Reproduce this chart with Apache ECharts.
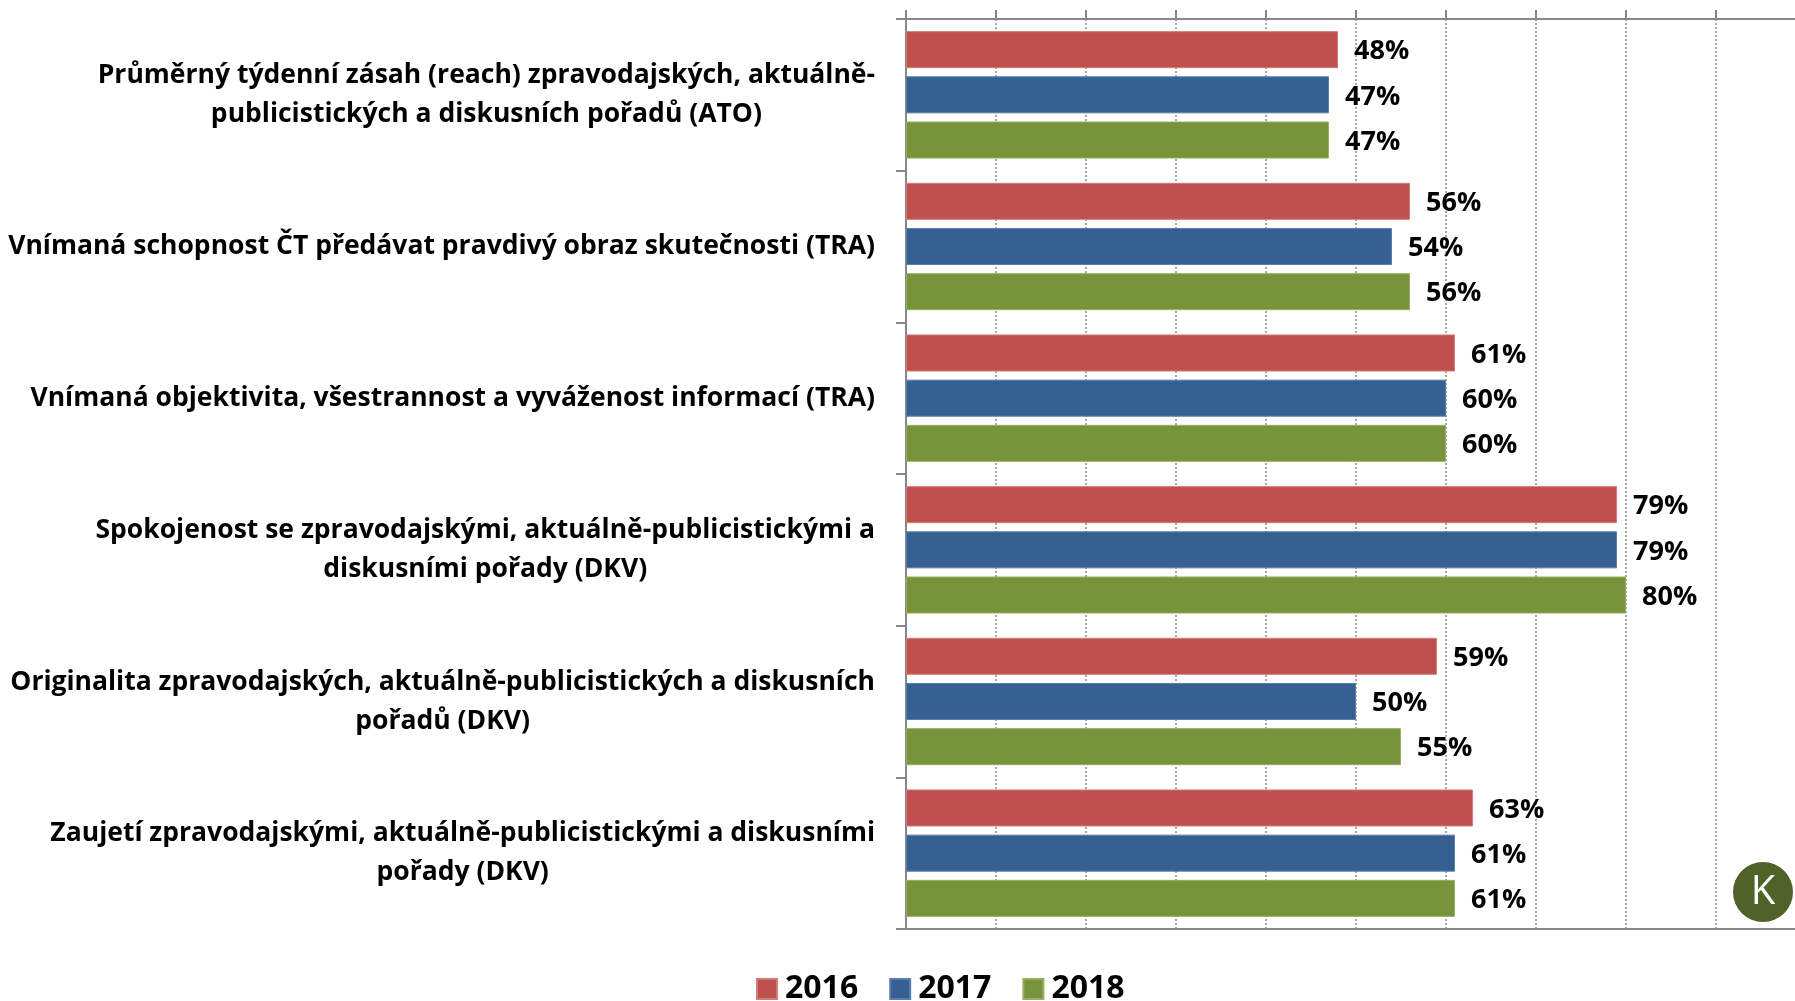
<!DOCTYPE html>
<html>
<head>
<meta charset="utf-8">
<script src="https://cdn.jsdelivr.net/npm/echarts@6/dist/echarts.min.js"></script>
<style>
html,body{margin:0;padding:0;background:#fff;}
#chart{width:1795px;height:1001px;}
</style>
</head>
<body>
<div id="chart"></div>
<script>
const categories = [
  'Průměrný týdenní zásah (reach) zpravodajských, aktuálně-\npublicistických a diskusních pořadů (ATO)',
  'Vnímaná schopnost ČT předávat pravdivý obraz skutečnosti (TRA)',
  'Vnímaná objektivita, všestrannost a vyváženost informací (TRA)',
  'Spokojenost se zpravodajskými, aktuálně-publicistickými a\ndiskusními pořady (DKV)',
  'Originalita zpravodajských, aktuálně-publicistických a diskusních\npořadů (DKV)',
  'Zaujetí zpravodajskými, aktuálně-publicistickými a diskusními\npořady (DKV)'
];
const seriesNames = ['2016', '2017', '2018'];
const values2016 = [48, 56, 61, 79, 59, 63];
const values2017 = [47, 54, 60, 79, 50, 61];
const values2018 = [47, 56, 60, 80, 55, 61];
const axisMin = 0, axisMax = 100, axisStep = 10;

const FONT = 'Open Sans';
const colors = ['#C0504D', '#376092', '#77933C'];
const borders = ['#D47B79', '#5A7FAE', '#97B060'];
const axisColor = '#878787';

const chart = echarts.init(document.getElementById('chart'), null, {renderer: 'canvas'});

function mkSeries(name, data, i) {
  return {
    name: name,
    type: 'bar',
    xAxisIndex: 0,
    data: data,
    barCategoryGap: '16%',
    barGap: '22%',
    itemStyle: {color: colors[i], borderColor: borders[i], borderWidth: 1},
    label: {
      show: true,
      position: 'right',
      distance: 16,
      offset: [0, 2],
      formatter: '{c}%',
      fontFamily: FONT,
      fontWeight: 'bold',
      fontSize: 27,
      color: '#000'
    },
    emphasis: {disabled: true},
    animation: false
  };
}

const option = {
  animation: false,
  grid: {left: 906, top: 19, width: 900, bottom: 72, containLabel: false, outerBoundsMode: 'none'},
  xAxis: [
    {
      type: 'value', position: 'top', min: axisMin, max: axisMax, interval: axisStep,
      axisLabel: {show: false},
      axisLine: {show: true, lineStyle: {color: axisColor, width: 2}},
      axisTick: {show: true, length: 9, lineStyle: {color: axisColor, width: 2}},
      splitLine: {show: true, lineStyle: {color: '#A8A8A8', width: 2, type: [2, 2]}}
    },
    {
      type: 'value', position: 'bottom', min: axisMin, max: axisMax, interval: axisStep,
      axisLabel: {show: false},
      axisLine: {show: true, lineStyle: {color: axisColor, width: 2}},
      axisTick: {show: false},
      splitLine: {show: false}
    }
  ],
  yAxis: {
    type: 'category',
    data: categories,
    inverse: true,
    axisLine: {show: true, lineStyle: {color: axisColor, width: 2}},
    axisTick: {show: true, length: 10, lineStyle: {color: axisColor, width: 2}},
    axisLabel: {
      margin: 31,
      color: '#000',
      fontFamily: FONT,
      fontWeight: 'bold',
      fontSize: 26.5,
      lineHeight: 39,
      formatter: function (v) {
        return v.split('\n').map(function (l) { return '{c|' + l + '}'; }).join('\n');
      },
      rich: {
        c: {align: 'center', fontFamily: FONT, fontWeight: 'bold', fontSize: 26.5, lineHeight: 39, color: '#000'}
      }
    }
  },
  legend: {
    top: 968,
    left: 751,
    icon: 'rect',
    itemWidth: 20,
    itemHeight: 20,
    itemGap: 31,
    textStyle: {fontFamily: FONT, fontWeight: 'bold', fontSize: 32, color: '#000', padding: [0, 0, 0, 3]},
    data: seriesNames
  },
  series: [
    mkSeries(seriesNames[0], values2016, 0),
    mkSeries(seriesNames[1], values2017, 1),
    mkSeries(seriesNames[2], values2018, 2)
  ],
  graphic: [
    {type: 'circle', shape: {cx: 1763, cy: 892, r: 30}, style: {fill: '#4F6228'}, z: 100},
    {type: 'text', x: 1763, y: 893, style: {text: 'K', fill: '#fff', fontFamily: FONT, fontSize: 40, fontWeight: 'normal', align: 'center', verticalAlign: 'middle'}, z: 101}
  ]
};
chart.setOption(option);
</script>
</body>
</html>
